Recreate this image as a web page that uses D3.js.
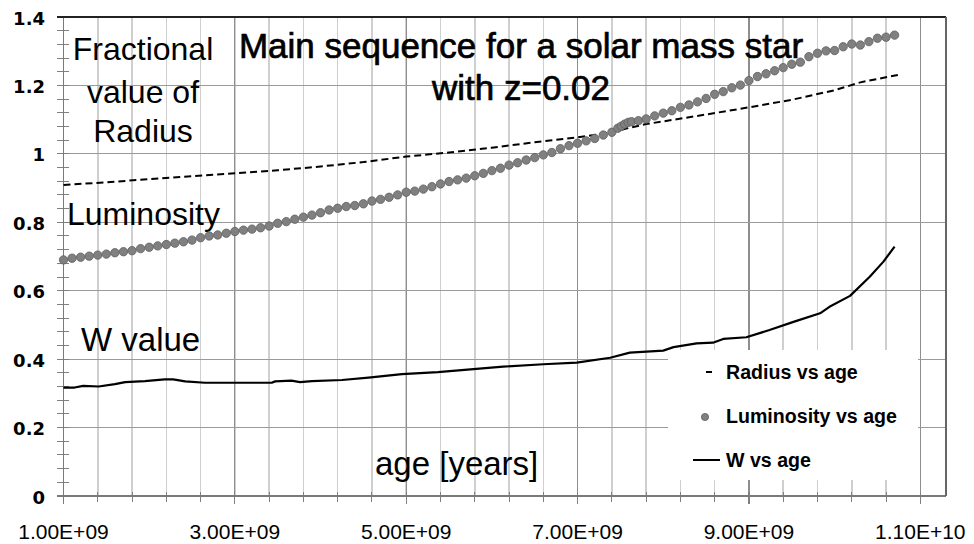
<!DOCTYPE html>
<html>
<head>
<meta charset="utf-8">
<script src="https://cdn.jsdelivr.net/npm/d3@7"></script>
<style>
  html, body { margin: 0; padding: 0; background: #ffffff; }
  svg { display: block; }
</style>
</head>
<body>
<svg id="chart" width="974" height="544"></svg>
<script>
// ---- data (ages in units of 1e9 years) ----
const lumAges = [1.0,1.1,1.2,1.3,1.4,1.5,1.6,1.7,1.8,1.9,2.0,2.1,2.2,2.3,2.4,2.5,2.6,2.7,2.8,2.9,
  3.0,3.1,3.2,3.3,3.4,3.5,3.6,3.7,3.8,3.9,4.0,4.1,4.2,4.3,4.4,4.5,4.6,4.7,4.8,4.9,
  5.0,5.1,5.2,5.3,5.4,5.5,5.6,5.7,5.8,5.9,6.0,6.1,6.2,6.3,6.4,6.5,6.6,6.7,6.8,6.9,
  7.0,7.1,7.2,7.3,7.4,7.47,7.51,7.55,7.59,7.63,7.71,7.8,7.9,8.0,8.1,8.2,8.3,8.4,8.5,8.6,
  8.7,8.8,8.9,9.0,9.1,9.2,9.3,9.4,9.5,9.6,9.7,9.8,9.9,10.0,10.1,10.2,10.3,10.4,10.5,10.6,10.7];
const lumValues = [0.690,0.695,0.698,0.701,0.704,0.707,0.711,0.714,0.717,0.723,0.727,0.731,0.735,0.739,0.743,0.748,0.755,0.760,0.763,0.768,
  0.773,0.777,0.780,0.784,0.789,0.797,0.802,0.809,0.815,0.821,0.828,0.836,0.841,0.846,0.849,0.854,0.862,0.867,0.873,0.880,
  0.888,0.891,0.897,0.904,0.912,0.919,0.924,0.929,0.936,0.943,0.951,0.958,0.967,0.974,0.982,0.989,0.997,1.004,1.015,1.024,
  1.031,1.038,1.045,1.055,1.063,1.075,1.081,1.087,1.092,1.094,1.097,1.102,1.111,1.119,1.126,1.136,1.143,1.152,1.162,1.174,
  1.182,1.193,1.201,1.214,1.226,1.234,1.243,1.252,1.262,1.268,1.284,1.294,1.301,1.302,1.313,1.321,1.318,1.328,1.338,1.341,1.347];

const radiusAges = [1.0,1.5,2.0,2.5,3.0,3.5,4.0,4.5,5.0,5.5,6.0,6.5,7.0,7.4,7.6,7.8,8.0,8.5,9.0,9.5,10.0,10.3,10.5,10.75];
const radiusValues = [0.909,0.917,0.926,0.935,0.943,0.952,0.963,0.976,0.992,1.004,1.018,1.034,1.048,1.063,1.076,1.087,1.095,1.115,1.136,1.158,1.186,1.209,1.219,1.231];

const wAges = [1.0,1.13,1.23,1.41,1.6,1.72,1.95,2.18,2.28,2.42,2.65,3.0,3.43,3.47,3.66,3.76,3.9,4.25,4.56,4.95,
  5.37,5.75,6.13,6.6,6.99,7.38,7.61,8.0,8.12,8.39,8.58,8.7,8.97,9.24,9.52,9.83,9.94,10.18,10.41,10.57,10.7];
const wValues = [0.317,0.317,0.322,0.320,0.327,0.333,0.336,0.341,0.341,0.335,0.331,0.331,0.331,0.335,0.337,0.333,0.336,0.339,0.346,0.356,
  0.362,0.370,0.378,0.385,0.390,0.404,0.419,0.425,0.435,0.446,0.448,0.459,0.464,0.485,0.509,0.534,0.553,0.585,0.641,0.685,0.729];

const xTickValues = [1, 3, 5, 7, 9, 11];
const xTickLabels = ["1.00E+09", "3.00E+09", "5.00E+09", "7.00E+09", "9.00E+09", "1.10E+10"];
const yTickValues = [0, 0.2, 0.4, 0.6, 0.8, 1.0, 1.2, 1.4];
const yTickLabels = ["0", "0.2", "0.4", "0.6", "0.8", "1", "1.2", "1.4"];
const legendLabels = ["Radius vs age", "Luminosity vs age", "W vs age"];

(function () {
const svg = d3.select("#chart");
const pL = 63.5, pR = 946, pT = 17, pB = 496;
const x = d3.scaleLinear().domain([1, 11.3]).range([pL, pR]);
const y = d3.scaleLinear().domain([0, 1.4]).range([pB, pT]);

const minorX = d3.range(0, 26).map(i => 1 + i * 0.4);
const minorY = d3.range(0, 36).map(i => i * 0.04);

const grid = svg.append("g").attr("shape-rendering", "crispEdges");
grid.selectAll(".vl").data(minorX).join("line")
  .attr("x1", d => x(d)).attr("x2", d => x(d))
  .attr("y1", pT).attr("y2", pB)
  .attr("stroke", "#cfcfcf").attr("stroke-width", 1.5);
grid.selectAll(".vd").data(xTickValues).join("line")
  .attr("x1", d => x(d)).attr("x2", d => x(d))
  .attr("y1", pT).attr("y2", pB)
  .attr("stroke", "#8e8e8e").attr("stroke-width", 1.2);
grid.selectAll(".hg").data(yTickValues.slice(1, -1)).join("line")
  .attr("x1", 57).attr("x2", pR)
  .attr("y1", d => y(d)).attr("y2", d => y(d))
  .attr("stroke", "#9a9a9a").attr("stroke-width", 1.2);

grid.selectAll(".ty").data(minorY).join("line")
  .attr("x1", 57).attr("x2", 69)
  .attr("y1", d => y(d)).attr("y2", d => y(d))
  .attr("stroke", "#808080").attr("stroke-width", 1);
grid.selectAll(".tx").data(minorX).join("line")
  .attr("x1", d => x(d)).attr("x2", d => x(d))
  .attr("y1", 492).attr("y2", 502)
  .attr("stroke", "#808080").attr("stroke-width", 1);
grid.selectAll(".txm").data(xTickValues).join("line")
  .attr("x1", d => x(d)).attr("x2", d => x(d))
  .attr("y1", 492).attr("y2", 503.5)
  .attr("stroke", "#808080").attr("stroke-width", 1.2);

grid.append("line").attr("x1", pL).attr("x2", pL).attr("y1", pT).attr("y2", pB + 6)
  .attr("stroke", "#7a7a7a").attr("stroke-width", 1.5);
grid.append("line").attr("x1", 57).attr("x2", pR).attr("y1", pB).attr("y2", pB)
  .attr("stroke", "#7a7a7a").attr("stroke-width", 1.5);
grid.append("line").attr("x1", 57).attr("x2", pR).attr("y1", pT).attr("y2", pT)
  .attr("stroke", "#222").attr("stroke-width", 1.5);
grid.append("line").attr("x1", pR).attr("x2", pR).attr("y1", pT).attr("y2", pB)
  .attr("stroke", "#666").attr("stroke-width", 1.5);

svg.append("g").selectAll("text").data(yTickValues).join("text")
  .attr("x", 45).attr("y", d => y(d) + 7.5)
  .attr("text-anchor", "end")
  .attr("font-family", "DejaVu Sans").attr("font-weight", "bold").attr("font-size", 18)
  .attr("fill", "#000")
  .text((d, i) => yTickLabels[i]);
svg.append("g").selectAll("text").data(xTickValues).join("text")
  .attr("x", d => x(d)).attr("y", 539)
  .attr("text-anchor", "middle")
  .attr("font-family", "Liberation Sans, Arial").attr("font-size", 21)
  .attr("fill", "#000")
  .text((d, i) => xTickLabels[i]);

const lg = svg.append("g");
lg.append("rect").attr("x", 668).attr("y", 350).attr("width", 250).attr("height", 130).attr("fill", "#fff");

const ann = svg.append("g").attr("font-family", "Liberation Sans, Arial").attr("fill", "#000");
const title = ann.append("g").attr("stroke", "#000").attr("stroke-width", 0.7).attr("font-size", 35);
title.append("text").attr("x", 521).attr("y", 58).attr("text-anchor", "middle")
  .text("Main sequence for a solar mass star");
title.append("text").attr("x", 521).attr("y", 100).attr("text-anchor", "middle")
  .text("with z=0.02");
ann.append("text").attr("x", 143).attr("y", 60).attr("text-anchor", "middle").attr("font-size", 32).text("Fractional");
ann.append("text").attr("x", 143).attr("y", 103).attr("text-anchor", "middle").attr("font-size", 32).text("value of");
ann.append("text").attr("x", 143).attr("y", 142).attr("text-anchor", "middle").attr("font-size", 32).text("Radius");
ann.append("text").attr("x", 67).attr("y", 225).attr("font-size", 32).text("Luminosity");
ann.append("text").attr("x", 81).attr("y", 351).attr("font-size", 33).text("W value");
ann.append("text").attr("x", 375).attr("y", 475).attr("font-size", 33).text("age [years]");

const line = d3.line().x(d => x(d[0])).y(d => y(d[1]));
svg.append("path")
  .datum(radiusAges.map((a, i) => [a, radiusValues[i]]))
  .attr("d", line).attr("fill", "none").attr("stroke", "#000")
  .attr("stroke-width", 2).attr("stroke-dasharray", "7,4");
svg.append("path")
  .datum(wAges.map((a, i) => [a, wValues[i]]))
  .attr("d", line).attr("fill", "none").attr("stroke", "#000")
  .attr("stroke-width", 2.2).attr("stroke-linejoin", "round");
svg.append("g").selectAll("circle").data(lumAges.map((a, i) => [a, lumValues[i]])).join("circle")
  .attr("cx", d => x(d[0])).attr("cy", d => y(d[1])).attr("r", 4.2)
  .attr("fill", "#808080").attr("stroke", "#5e5e5e").attr("stroke-width", 0.8);

lg.raise();
lg.append("line").attr("x1", 706).attr("x2", 712).attr("y1", 372).attr("y2", 372)
  .attr("stroke", "#000").attr("stroke-width", 2);
lg.append("circle").attr("cx", 705).attr("cy", 417).attr("r", 3.6)
  .attr("fill", "#808080").attr("stroke", "#5e5e5e").attr("stroke-width", 0.8);
lg.append("line").attr("x1", 693).attr("x2", 720).attr("y1", 460).attr("y2", 460)
  .attr("stroke", "#000").attr("stroke-width", 2);
lg.selectAll("text.lt").data(legendLabels).join("text")
  .attr("x", 726).attr("y", (d, i) => 379 + i * 44)
  .attr("font-family", "Liberation Sans, Arial").attr("font-weight", "bold").attr("font-size", 19.6)
  .attr("fill", "#000")
  .text(d => d);
})();
</script>
</body>
</html>
